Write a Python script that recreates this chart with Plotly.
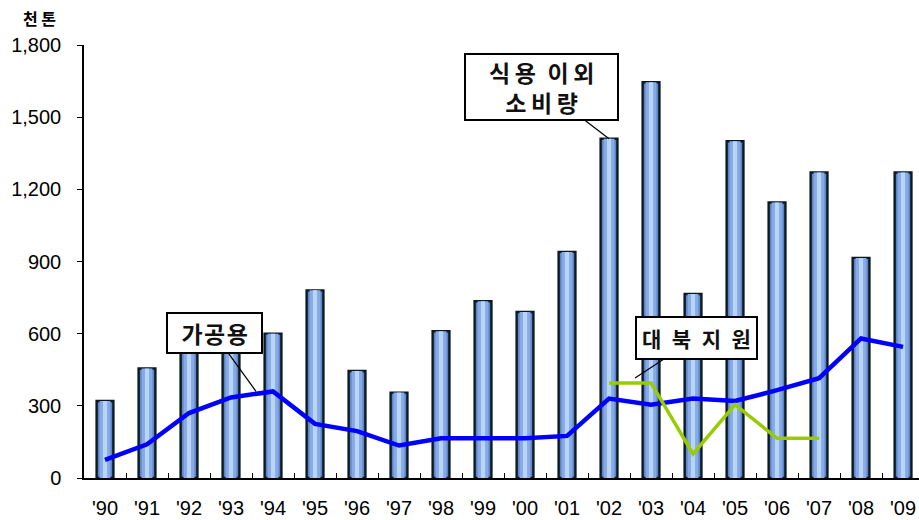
import plotly.graph_objects as go

years = ["'90", "'91", "'92", "'93", "'94", "'95", "'96", "'97", "'98", "'99",
         "'00", "'01", "'02", "'03", "'04", "'05", "'06", "'07", "'08", "'09"]
non_food = [320, 455, 550, 580, 600, 780, 445, 355, 610, 735,
            690, 940, 1410, 1645, 765, 1400, 1145, 1270, 915, 1270]
processing = [75, 140, 270, 335, 360, 225, 195, 135, 165, 165,
              165, 175, 330, 305, 330, 320, 365, 415, 580, 545]
aid_years = ["'02", "'03", "'04", "'05", "'06", "'07"]
aid = [395, 395, 100, 305, 165, 165]
y_ticks = [0, 300, 600, 900, 1200, 1500, 1800]

fig = go.Figure()
fig.add_trace(go.Bar(x=years, y=non_food, width=0.40,
                     marker=dict(color="#5f83c8", line=dict(color="#0b1a20", width=2.4)),
                     hoverinfo="skip"))
fig.add_trace(go.Bar(x=years, y=non_food, width=0.26,
                     marker=dict(color="#86aae3", line=dict(width=0)), hoverinfo="skip"))
fig.add_trace(go.Bar(x=years, y=non_food, width=0.10,
                     marker=dict(color="#b8d4f6", line=dict(width=0)), hoverinfo="skip"))
fig.add_trace(go.Scatter(x=years, y=processing, mode="lines",
                         line=dict(color="#0000ff", width=4.5)))
fig.add_trace(go.Scatter(x=aid_years, y=aid, mode="lines",
                         line=dict(color="#99cc00", width=3.5)))

kfont = "Noto Sans CJK KR"
fig.add_annotation(x="'94", y=360, xref="x", yref="y", ax=-42, ay=-58,
                   text="\u2002<b>가\u200a공\u200a용</b>\u2002", showarrow=True, arrowhead=0,
                   arrowwidth=1.2, arrowcolor="black", bgcolor="white", bordercolor="black",
                   borderwidth=2, borderpad=2, xshift=-17,
                   font=dict(family=kfont, size=23, color="#111111"))
fig.add_annotation(x="'02", y=1410, xref="x", yref="y", ax=-68, ay=-52,
                   text="\u2003<b>식\u2009용\u2002이\u2009외</b>\u2003<br><b>소\u2009비\u2009량</b>",
                   showarrow=True, arrowhead=0, arrowwidth=1.2,
                   arrowcolor="black", bgcolor="white", bordercolor="black",
                   borderwidth=2, borderpad=0,
                   font=dict(family=kfont, size=23, color="#111111"))
fig.add_annotation(x="'02", y=395, xref="x", yref="y", ax=61, ay=-40,
                   text="<b>대\u2002북\u2002지\u2002원</b>", showarrow=True, arrowhead=0,
                   arrowwidth=1.2, arrowcolor="black", bgcolor="white", bordercolor="black",
                   borderwidth=2, borderpad=5, xshift=26, yshift=5,
                   font=dict(family=kfont, size=21, color="#111111"))
fig.add_annotation(xref="paper", yref="paper", x=-0.053, y=1.062,
                   xanchor="center", yanchor="middle", text="<b>천 톤</b>",
                   showarrow=False, font=dict(family=kfont, size=16, color="black"))

fig.update_layout(
    width=919, height=520, barmode="overlay", showlegend=False,
    margin=dict(l=84, r=0, t=45, b=42),
    plot_bgcolor="white", paper_bgcolor="white",
    font=dict(family="Liberation Sans, Arial, sans-serif", size=17, color="black"),
)
fig.update_xaxes(type="category", categoryorder="array", categoryarray=years,
                 range=[-0.5, 19.38], showline=True, linecolor="black", linewidth=2,
                 ticks="inside", tickson="boundaries", ticklen=5, tickcolor="black",
                 tickfont=dict(family="Liberation Sans Narrow, Liberation Sans, sans-serif", size=20),
                 ticklabelstandoff=11, showgrid=False, zeroline=False)
fig.update_yaxes(range=[0, 1800], tickvals=y_ticks,
                 ticktext=[f"{v:,}" for v in y_ticks], showline=True, linecolor="black",
                 linewidth=1.5, ticks="outside", ticklen=5, tickcolor="black",
                 tickfont=dict(size=20), ticklabelstandoff=12,
                 showgrid=False, zeroline=False)

fig.write_html("out.html")
